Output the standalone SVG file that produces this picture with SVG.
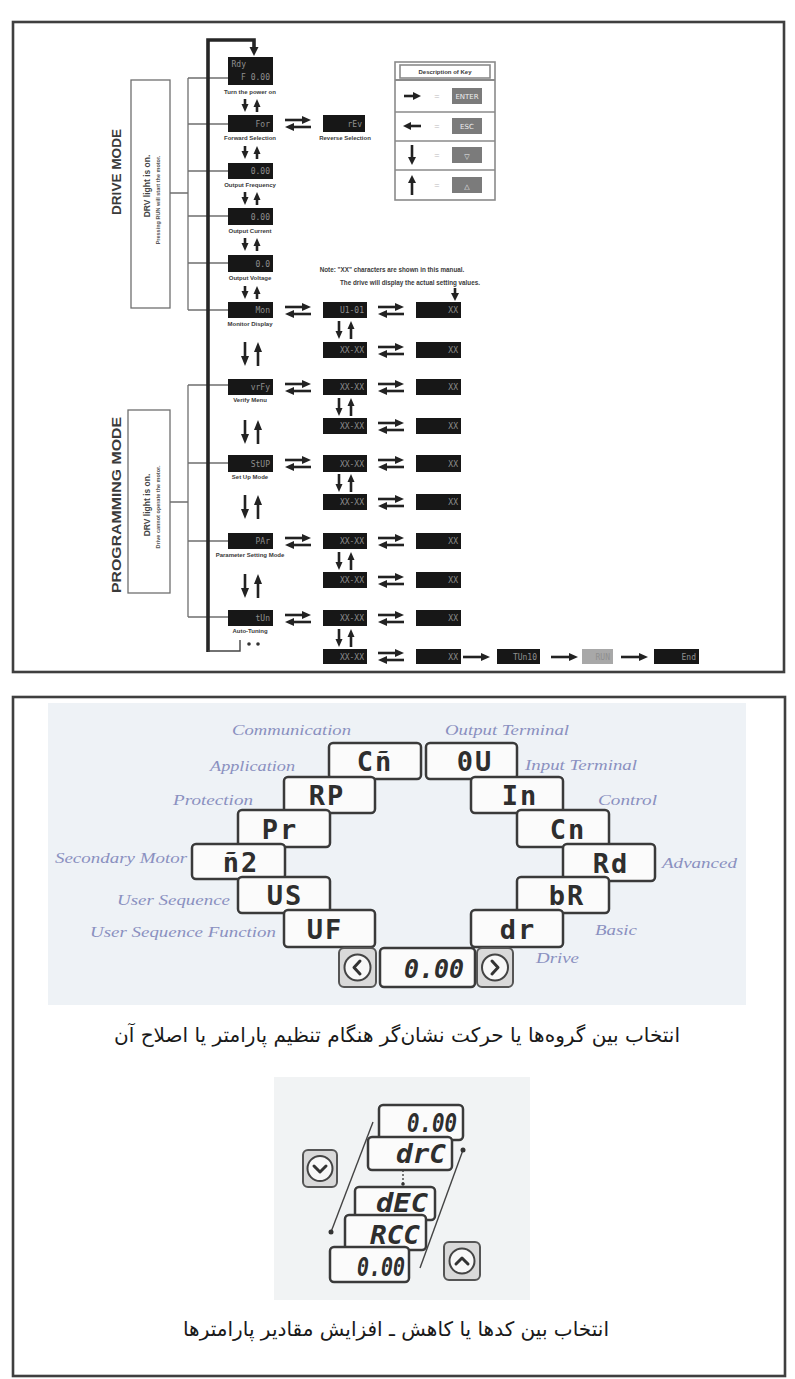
<svg xmlns="http://www.w3.org/2000/svg" width="795" height="1379" viewBox="0 0 795 1379">
<defs>
<style>
.frame{fill:#fff;stroke:#3f3f3f;stroke-width:2.6}
.blk{fill:#171717}
.gry{fill:#a8a8a8}
.bt{font-family:"DejaVu Sans Mono",monospace;font-size:8px;fill:#8f8f8f;text-anchor:end}
.lbl{font-family:"Liberation Sans",Arial,sans-serif;font-size:6px;font-weight:bold;fill:#3a3a3a;text-anchor:middle}
.note{font-family:"Liberation Sans",Arial,sans-serif;font-size:6.3px;font-weight:bold;fill:#3a3a3a;text-anchor:middle}
.br{fill:none;stroke:#6f6f6f;stroke-width:1.3}
.bus{fill:none;stroke:#262626;stroke-width:3.6}
.arr{stroke:#222;stroke-width:2.6;fill:none}
.ah{fill:#222}
.mode{font-family:"Liberation Sans",Arial,sans-serif;font-weight:bold;font-size:13px;fill:#3a3a3a;text-anchor:middle}
.mode2{font-family:"Liberation Sans",Arial,sans-serif;font-weight:bold;font-size:8.5px;fill:#444;text-anchor:middle}
.mode3{font-family:"Liberation Sans",Arial,sans-serif;font-weight:bold;font-size:5.5px;fill:#555;text-anchor:middle}
.kbox{fill:#fff;stroke:#8a8a8a;stroke-width:1.6}
.key{fill:#7b7b7b}
.kt{font-family:"DejaVu Sans",sans-serif;font-size:7px;fill:#eee;text-anchor:middle}
.eq{font-family:"Liberation Sans",Arial,sans-serif;font-size:9px;fill:#bbb;text-anchor:middle}
.seg{font-family:"DejaVu Sans Mono",monospace;font-weight:bold;font-size:27px;fill:#2e2e2e;text-anchor:middle;letter-spacing:2px}
.segi{font-family:"DejaVu Sans Mono",monospace;font-style:italic;font-weight:bold;font-size:26px;fill:#2e2e2e;text-anchor:middle}
.lcd{fill:#fbfbfb;stroke:#3a3a3a;stroke-width:2.5}
.btn{fill:#d9d9d9;stroke:#555;stroke-width:2}
.btc{fill:#f8f8f8;stroke:#444;stroke-width:2}
.chev{fill:none;stroke:#333;stroke-width:3;stroke-linecap:round;stroke-linejoin:round}
.grp{font-family:"Liberation Serif",serif;font-style:italic;font-size:15px;fill:#8a90c0}
.fa{font-family:"DejaVu Sans",sans-serif;font-size:20px;fill:#1a1a1a;text-anchor:middle}
.thin{stroke:#444;stroke-width:1.4;fill:none}
</style>
<g id="lr">
 <line x1="0" y1="3" x2="19" y2="3" class="arr"/><polygon points="26,3 17,-1 17,7" class="ah"/>
 <line x1="7" y1="10" x2="26" y2="10" class="arr"/><polygon points="0,10 9,6 9,14" class="ah"/>
</g>
<g id="rt">
 <line x1="0" y1="0" x2="20" y2="0" class="arr"/><polygon points="27,0 18,-4 18,4" class="ah"/>
</g>
<g id="du">
 <line x1="0" y1="0" x2="0" y2="7" class="arr"/><polygon points="0,13 -3.5,5 3.5,5" class="ah"/>
 <line x1="12" y1="6" x2="12" y2="13" class="arr"/><polygon points="12,0 8.5,8 15.5,8" class="ah"/>
</g>
<g id="dus">
 <line x1="0" y1="0" x2="0" y2="12" class="arr"/><polygon points="0,18 -3.5,10 3.5,10" class="ah"/>
 <line x1="12" y1="6" x2="12" y2="18" class="arr"/><polygon points="12,0 8.5,8 15.5,8" class="ah"/>
</g>
<g id="dub">
 <line x1="0" y1="0" x2="0" y2="16" class="arr"/><polygon points="0,24 -4,14 4,14" class="ah"/>
 <line x1="13" y1="8" x2="13" y2="24" class="arr"/><polygon points="13,0 9,10 17,10" class="ah"/>
</g>
</defs>

<rect width="795" height="1379" fill="#fff"/>
<rect id="panel-top" class="frame" x="13" y="22" width="771" height="650"/>
<rect id="panel-bottom" class="frame" x="13" y="697" width="772" height="679"/>

<g id="drive-mode">
 <rect x="131" y="80" width="39" height="228" class="br"/>
 <text class="mode" transform="translate(121,172) rotate(-90)" textLength="86" lengthAdjust="spacingAndGlyphs">DRIVE MODE</text>
 <text class="mode2" transform="translate(150,186) rotate(-90)">DRV light is on.</text>
 <text class="mode3" transform="translate(160,200) rotate(-90)">Pressing RUN will start the motor.</text>
</g>
<g id="programming-mode">
 <rect x="128" y="410" width="42" height="183" class="br"/>
 <text class="mode" transform="translate(121,505) rotate(-90)" textLength="176" lengthAdjust="spacingAndGlyphs">PROGRAMMING MODE</text>
 <text class="mode2" transform="translate(150,505) rotate(-90)">DRV light is on.</text>
 <text class="mode3" transform="translate(160,507) rotate(-90)">Drive cannot operate the motor.</text>
</g>

<g id="key-description">
 <rect x="395" y="62" width="100" height="138" class="kbox"/>
 <rect x="400" y="65" width="90" height="13" class="kbox" stroke-width="1"/>
 <text x="445" y="74" class="lbl" font-size="5.8">Description of Key</text>
 <line x1="395" y1="80" x2="495" y2="80" stroke="#8a8a8a" stroke-width="2"/>
 <line x1="395" y1="112" x2="495" y2="112" stroke="#8a8a8a" stroke-width="1.6"/>
 <line x1="395" y1="141" x2="495" y2="141" stroke="#8a8a8a" stroke-width="1.6"/>
 <line x1="395" y1="170" x2="495" y2="170" stroke="#8a8a8a" stroke-width="1.6"/>
 <line x1="404" y1="96" x2="414" y2="96" class="arr"/><polygon points="421,96 413,92 413,100" class="ah"/>
 <line x1="411" y1="126" x2="421" y2="126" class="arr"/><polygon points="403,126 411,122 411,130" class="ah"/>
 <line x1="412" y1="145" x2="412" y2="158" class="arr"/><polygon points="412,165 408,157 416,157" class="ah"/>
 <line x1="412" y1="182" x2="412" y2="195" class="arr"/><polygon points="412,175 408,183 416,183" class="ah"/>
 <text x="437" y="99" class="eq">=</text><text x="437" y="129" class="eq">=</text>
 <text x="437" y="158" class="eq">=</text><text x="437" y="188" class="eq">=</text>
 <rect x="452" y="88" width="30" height="16" class="key"/><text x="467" y="99" class="kt" font-size="5.5">ENTER</text>
 <rect x="452" y="118" width="30" height="16" class="key"/><text x="467" y="129" class="kt" font-size="6">ESC</text>
 <rect x="452" y="147" width="30" height="16" class="key"/><text x="467" y="159" class="kt" font-size="10">▽</text>
 <rect x="452" y="177" width="30" height="16" class="key"/><text x="467" y="189" class="kt" font-size="10">△</text>
</g>

<g id="connectors">
 <path class="br" d="M170,193 H188 M188,78 V310 M188,78 H228 M188,124 H228 M188,171 H228 M188,216 H228 M188,263 H228 M188,310 H228"/>
 <path class="br" d="M170,502 H188 M188,385 V617 M188,385 H228 M188,463 H228 M188,541 H228 M188,617 H230"/>
 <path class="bus" d="M208,652 V40 H254 V49"/>
 <polygon points="254,56 249.5,47 258.5,47" class="ah"/>
 <path class="thin" d="M208,651 H240 V640" stroke-width="2"/>
 <circle cx="249" cy="644" r="1.8" fill="#333"/><circle cx="258" cy="644" r="1.8" fill="#333"/>
 <use href="#du" x="245" y="99"/>
 <use href="#du" x="245" y="146"/>
 <use href="#du" x="245" y="192"/>
 <use href="#du" x="245" y="238"/>
 <use href="#du" x="245" y="286"/>
 <use href="#dub" x="245" y="342"/>
 <use href="#dub" x="245" y="420"/>
 <use href="#dub" x="245" y="495"/>
 <use href="#dub" x="245" y="574"/>
 <use href="#dus" x="339" y="321"/>
 <use href="#dus" x="339" y="398"/>
 <use href="#dus" x="339" y="474"/>
 <use href="#dus" x="339" y="552"/>
 <use href="#dus" x="339" y="629"/>
 <line x1="455" y1="288" x2="455" y2="295" class="arr"/><polygon points="455,301 451,293 459,293" class="ah"/>
 <use href="#lr" x="285" y="117"/>
 <use href="#lr" x="285" y="304"/><use href="#lr" x="378" y="304"/>
 <use href="#lr" x="378" y="344"/>
 <use href="#lr" x="285" y="381"/><use href="#lr" x="378" y="381"/>
 <use href="#lr" x="378" y="420"/>
 <use href="#lr" x="285" y="457"/><use href="#lr" x="378" y="457"/>
 <use href="#lr" x="378" y="496"/>
 <use href="#lr" x="285" y="535"/><use href="#lr" x="378" y="535"/>
 <use href="#lr" x="378" y="574"/>
 <use href="#lr" x="285" y="612"/><use href="#lr" x="378" y="612"/>
 <use href="#lr" x="378" y="650"/>
 <use href="#rt" x="463" y="657"/><use href="#rt" x="551" y="657"/><use href="#rt" x="621" y="657"/>
</g>

<g id="n-power"><rect class="blk" x="228" y="57" width="45" height="28"/><text class="bt" x="246" y="67" font-size="6">Rdy</text><text class="bt" x="270" y="80">F 0.00</text><text class="lbl" x="250" y="94">Turn the power on</text></g>
<g id="n-forward"><rect class="blk" x="228" y="115" width="45" height="17"/><text class="bt" x="270" y="127">For</text><text class="lbl" x="250" y="140">Forward Selection</text></g>
<g id="n-reverse"><rect class="blk" x="323" y="115" width="42" height="17"/><text class="bt" x="362" y="127">rEv</text><text class="lbl" x="345" y="140">Reverse Selection</text></g>
<g id="n-freq"><rect class="blk" x="228" y="163" width="45" height="16"/><text class="bt" x="270" y="174">0.00</text><text class="lbl" x="250" y="187">Output Frequency</text></g>
<g id="n-current"><rect class="blk" x="228" y="208" width="45" height="17"/><text class="bt" x="270" y="220">0.00</text><text class="lbl" x="250" y="233">Output Current</text></g>
<g id="n-voltage"><rect class="blk" x="228" y="255" width="45" height="17"/><text class="bt" x="270" y="267">0.0</text><text class="lbl" x="250" y="280">Output Voltage</text></g>
<g id="n-monitor"><rect class="blk" x="228" y="302" width="45" height="16"/><text class="bt" x="270" y="313">Mon</text><text class="lbl" x="250" y="326">Monitor Display</text></g>
<g id="n-verify"><rect class="blk" x="228" y="379" width="45" height="16"/><text class="bt" x="270" y="390">vrFy</text><text class="lbl" x="250" y="402">Verify Menu</text></g>
<g id="n-setup"><rect class="blk" x="228" y="455" width="45" height="17"/><text class="bt" x="270" y="467">StUP</text><text class="lbl" x="250" y="479">Set Up Mode</text></g>
<g id="n-param"><rect class="blk" x="228" y="533" width="45" height="16"/><text class="bt" x="270" y="544">PAr</text><text class="lbl" x="250" y="557">Parameter Setting Mode</text></g>
<g id="n-auto"><rect class="blk" x="228" y="610" width="45" height="16"/><text class="bt" x="270" y="621">tUn</text><text class="lbl" x="250" y="633">Auto-Tuning</text></g>

<g id="n-col-b">
 <rect class="blk" x="323" y="302" width="44" height="16"/><text class="bt" x="364" y="313">U1-01</text>
 <rect class="blk" x="323" y="342" width="44" height="16"/><text class="bt" x="364" y="353">XX-XX</text>
 <rect class="blk" x="323" y="379" width="44" height="16"/><text class="bt" x="364" y="390">XX-XX</text>
 <rect class="blk" x="323" y="418" width="44" height="16"/><text class="bt" x="364" y="429">XX-XX</text>
 <rect class="blk" x="323" y="455" width="44" height="17"/><text class="bt" x="364" y="467">XX-XX</text>
 <rect class="blk" x="323" y="494" width="44" height="16"/><text class="bt" x="364" y="505">XX-XX</text>
 <rect class="blk" x="323" y="533" width="44" height="16"/><text class="bt" x="364" y="544">XX-XX</text>
 <rect class="blk" x="323" y="572" width="44" height="16"/><text class="bt" x="364" y="583">XX-XX</text>
 <rect class="blk" x="323" y="610" width="44" height="16"/><text class="bt" x="364" y="621">XX-XX</text>
 <rect class="blk" x="323" y="649" width="44" height="15"/><text class="bt" x="364" y="660">XX-XX</text>
</g>
<g id="n-col-c">
 <rect class="blk" x="416" y="302" width="45" height="16"/><text class="bt" x="458" y="313">XX</text>
 <rect class="blk" x="416" y="342" width="45" height="16"/><text class="bt" x="458" y="353">XX</text>
 <rect class="blk" x="416" y="379" width="45" height="16"/><text class="bt" x="458" y="390">XX</text>
 <rect class="blk" x="416" y="418" width="45" height="16"/><text class="bt" x="458" y="429">XX</text>
 <rect class="blk" x="416" y="455" width="45" height="17"/><text class="bt" x="458" y="467">XX</text>
 <rect class="blk" x="416" y="494" width="45" height="16"/><text class="bt" x="458" y="505">XX</text>
 <rect class="blk" x="416" y="533" width="45" height="16"/><text class="bt" x="458" y="544">XX</text>
 <rect class="blk" x="416" y="572" width="45" height="16"/><text class="bt" x="458" y="583">XX</text>
 <rect class="blk" x="416" y="610" width="45" height="16"/><text class="bt" x="458" y="621">XX</text>
 <rect class="blk" x="416" y="649" width="45" height="15"/><text class="bt" x="458" y="660">XX</text>
</g>
<g id="n-tail">
 <rect class="blk" x="497" y="649" width="43" height="15"/><text class="bt" x="537" y="660">TUn10</text>
 <rect class="gry" x="582" y="649" width="31" height="15"/><text class="bt" x="610" y="660" fill="#ccc">RUN</text>
 <rect class="blk" x="654" y="649" width="45" height="15"/><text class="bt" x="696" y="660">End</text>
</g>
<g id="note"><text class="note" x="392" y="272">Note: "XX" characters are shown in this manual.</text><text class="note" x="410" y="285">The drive will display the actual setting values.</text></g>

<rect x="48" y="703" width="698" height="302" fill="#eef2f6"/>
<g id="g-cm"><rect class="lcd" x="329" y="743" width="92" height="36" rx="4"/><text class="seg" x="375" y="771">Cñ</text></g>
<g id="g-ou"><rect class="lcd" x="426" y="743" width="91" height="36" rx="4"/><text class="seg" x="475" y="771">0U</text></g>
<g id="g-ap"><rect class="lcd" x="284" y="777" width="91" height="36" rx="4"/><text class="seg" x="327" y="805">RP</text></g>
<g id="g-in"><rect class="lcd" x="471" y="777" width="92" height="36" rx="4"/><text class="seg" x="520" y="805">In</text></g>
<g id="g-pr"><rect class="lcd" x="238" y="810" width="92" height="37" rx="4"/><text class="seg" x="280" y="839">Pr</text></g>
<g id="g-cn"><rect class="lcd" x="517" y="810" width="92" height="37" rx="4"/><text class="seg" x="568" y="839">Cn</text></g>
<g id="g-m2"><rect class="lcd" x="192" y="844" width="93" height="35" rx="4"/><text class="seg" x="241" y="872">ñ2</text></g>
<g id="g-ad"><rect class="lcd" x="563" y="844" width="92" height="37" rx="4"/><text class="seg" x="611" y="873">Rd</text></g>
<g id="g-us"><rect class="lcd" x="238" y="877" width="92" height="36" rx="4"/><text class="seg" x="285" y="905">US</text></g>
<g id="g-ba"><rect class="lcd" x="517" y="877" width="92" height="36" rx="4"/><text class="seg" x="567" y="905">bR</text></g>
<g id="g-uf"><rect class="lcd" x="284" y="910" width="91" height="37" rx="4"/><text class="seg" x="325" y="939">UF</text></g>
<g id="g-dr"><rect class="lcd" x="471" y="910" width="92" height="37" rx="4"/><text class="seg" x="518" y="939">dr</text></g>
<g id="g-left"><rect class="btn" x="339" y="948" width="37" height="39" rx="5"/><circle class="btc" cx="357.5" cy="967.5" r="13"/><path class="chev" d="M360,961 L354,967.5 L360,974"/></g>
<g id="g-val"><rect class="lcd" x="380" y="948" width="95" height="39" rx="4"/><text class="segi" x="434" y="978" font-size="29" textLength="60" lengthAdjust="spacingAndGlyphs">0.00</text></g>
<g id="g-right"><rect class="btn" x="477" y="948" width="36" height="39" rx="5"/><circle class="btc" cx="495" cy="967.5" r="13"/><path class="chev" d="M492,961 L498,967.5 L492,974"/></g>

<g id="group-labels">
 <text class="grp" x="232" y="735" textLength="119" lengthAdjust="spacingAndGlyphs">Communication</text>
 <text class="grp" x="445" y="735" textLength="124" lengthAdjust="spacingAndGlyphs">Output Terminal</text>
 <text class="grp" x="210" y="771" textLength="85" lengthAdjust="spacingAndGlyphs">Application</text>
 <text class="grp" x="525" y="770" textLength="112" lengthAdjust="spacingAndGlyphs">Input Terminal</text>
 <text class="grp" x="173" y="805" textLength="80" lengthAdjust="spacingAndGlyphs">Protection</text>
 <text class="grp" x="598" y="805" textLength="59" lengthAdjust="spacingAndGlyphs">Control</text>
 <text class="grp" x="55" y="863" textLength="132" lengthAdjust="spacingAndGlyphs">Secondary Motor</text>
 <text class="grp" x="662" y="868" textLength="75" lengthAdjust="spacingAndGlyphs">Advanced</text>
 <text class="grp" x="117" y="905" textLength="113" lengthAdjust="spacingAndGlyphs">User Sequence</text>
 <text class="grp" x="595" y="935" textLength="42" lengthAdjust="spacingAndGlyphs">Basic</text>
 <text class="grp" x="90" y="937" textLength="186" lengthAdjust="spacingAndGlyphs">User Sequence Function</text>
 <text class="grp" x="536" y="963" textLength="43" lengthAdjust="spacingAndGlyphs">Drive</text>
</g>
<text class="fa" x="397" y="1042" direction="rtl" textLength="566" lengthAdjust="spacingAndGlyphs">انتخاب بین گروه‌ها یا حرکت نشان‌گر هنگام تنظیم پارامتر یا اصلاح آن</text>

<rect x="274" y="1077" width="256" height="223" fill="#f1f3f4"/>
<g id="code-lines">
 <line class="thin" x1="373" y1="1122" x2="331" y2="1232"/>
 <circle cx="331" cy="1232" r="2.5" fill="#333"/>
 <line class="thin" x1="463" y1="1150" x2="420" y2="1268"/>
 <circle cx="463" cy="1150" r="2.5" fill="#333"/>
 <line class="thin" x1="403" y1="1170" x2="403" y2="1188" stroke-dasharray="2,2"/>
 <circle cx="403" cy="1184" r="1.8" fill="#333"/>
</g>
<g id="c-top"><rect class="lcd" x="379" y="1105" width="84" height="35" rx="4"/><text class="segi" x="432" y="1132" textLength="50" lengthAdjust="spacingAndGlyphs">0.00</text></g>
<g id="c-drc"><rect class="lcd" x="368" y="1137" width="84" height="33" rx="4"/><text class="segi" x="421" y="1163" textLength="50" lengthAdjust="spacingAndGlyphs">drC</text></g>
<g id="c-dec"><rect class="lcd" x="355" y="1187" width="80" height="33" rx="4"/><text class="segi" x="402" y="1212" textLength="52" lengthAdjust="spacingAndGlyphs">dEC</text></g>
<g id="c-acc"><rect class="lcd" x="345" y="1215" width="81" height="35" rx="4"/><text class="segi" x="395" y="1244" textLength="50" lengthAdjust="spacingAndGlyphs">RCC</text></g>
<g id="c-bot"><rect class="lcd" x="330" y="1247" width="79" height="35" rx="4"/><text class="segi" x="381" y="1276" textLength="48" lengthAdjust="spacingAndGlyphs">0.00</text></g>
<g id="c-down"><rect class="btn" x="303" y="1150" width="34" height="37" rx="5"/><circle class="btc" cx="320" cy="1168.5" r="12.5"/><path class="chev" d="M314,1166 L320,1172 L326,1166"/></g>
<g id="c-up"><rect class="btn" x="444" y="1242" width="36" height="38" rx="5"/><circle class="btc" cx="462" cy="1261" r="12.5"/><path class="chev" d="M456,1264 L462,1258 L468,1264"/></g>
<text class="fa" x="396" y="1336" direction="rtl" textLength="426" lengthAdjust="spacingAndGlyphs">انتخاب بین کدها یا کاهش ـ افزایش مقادیر پارامترها</text>
</svg>
